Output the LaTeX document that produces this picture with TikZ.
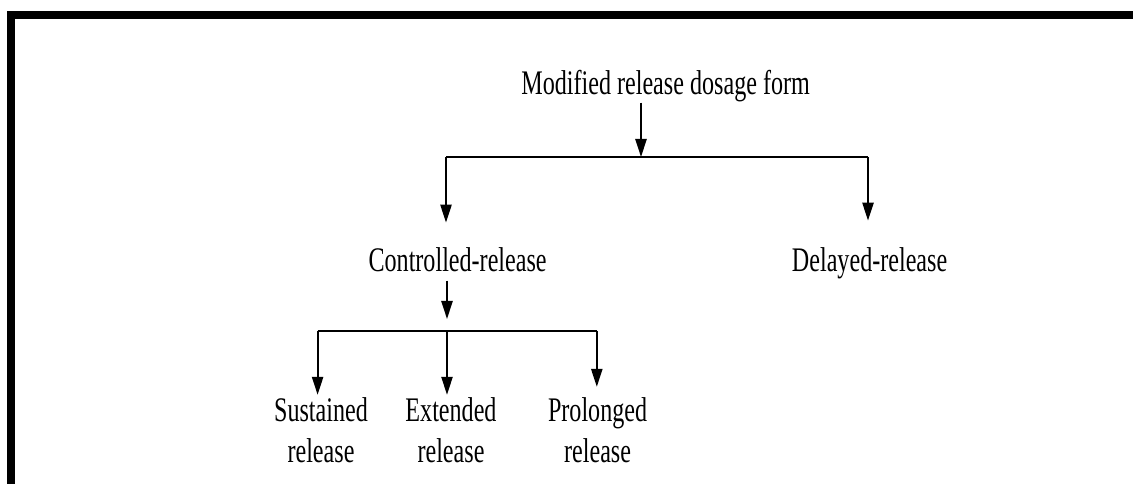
\documentclass[tikz,border=0pt]{standalone}
\usepackage{fontspec}
\setmainfont{Liberation Serif}[FakeStretch=0.7]
\usetikzlibrary{arrows.meta}

\tikzset{
  lbl/.style={inner sep=0pt, font=\fontsize{24.5}{29}\selectfont, align=center},
  link/.style={line width=1.3pt},
  arr/.style={link, -{Triangle[length=0.45cm,width=0.28cm]}},
}

\begin{document}
\begin{tikzpicture}
    \useasboundingbox (0,0) rectangle (28.325,12.1);
    \fill (0.175,11.625) rectangle (28.325,11.825);
    \fill (0.175,0) rectangle (0.375,11.825);

    \node[lbl,anchor=base] (root) at (16.64,9.725) {Modified release dosage form};
    \node[lbl,anchor=base] (ctrl) at (11.44,5.3) {Controlled-release};
    \node[lbl,anchor=base] (delay) at (21.74,5.32) {Delayed-release};

    \coordinate (top) at (16.025,8.175);
    \coordinate (topl) at (11.15,8.175);
    \coordinate (topr) at (21.7,8.175);
    \draw[arr] (root.south -| top) -- (top);
    \draw[link] (topl) -- (topr);
    \draw[arr,shorten >=0.63cm] (topl) -- (topl |- ctrl.north);
    \draw[arr,shorten >=0.66cm] (topr) -- (topr |- delay.north);

    \coordinate (mid) at (11.175,3.825);
    \draw[arr,shorten <=0.2cm,shorten >=0.3cm] (ctrl.south -| mid) -- (mid);

    \foreach \x\nx\n\t\s in {
        7.94/8.025/sus/Sustained/0.07,
        11.175/11.275/ext/Extended/0.07,
        14.92/14.94/pro/Prolonged/0.27}{
      \node[lbl,anchor=north] (\n) at (\nx,2.16) {\t\\release};
      \coordinate (b\n) at (\x,3.825);
      \draw[arr,shorten >=\s cm] (b\n) -- (b\n |- \n.north);
    }
    \draw[link] (bsus) -- (bpro);
  \end{tikzpicture}
\end{document}
